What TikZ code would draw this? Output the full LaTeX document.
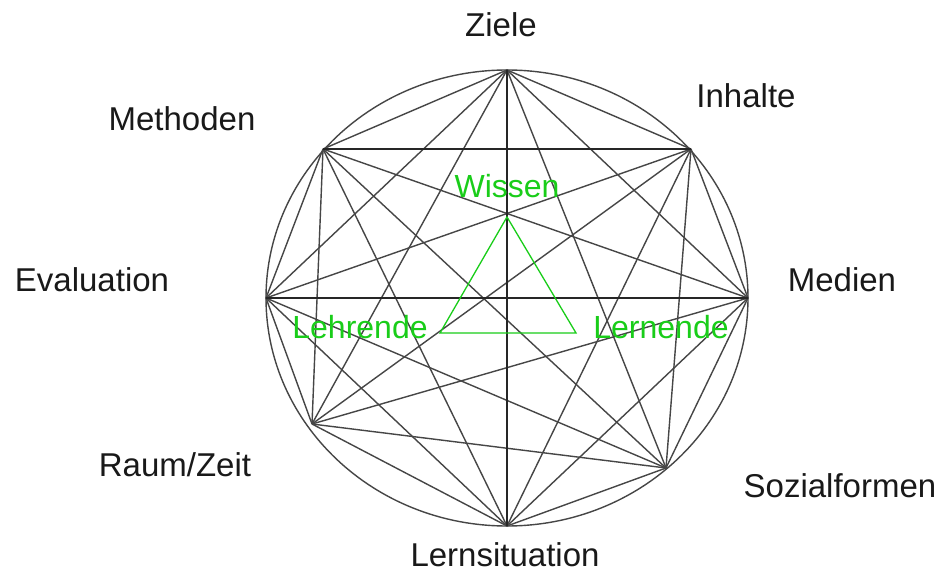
\documentclass[tikz,border=0pt]{standalone}
\usepackage{fontspec}
\setmainfont{Liberation Sans}
\usepackage{tikz}
\usetikzlibrary{positioning, calc}
\definecolor{triad-color}{RGB}{25,205,25}
\definecolor{edge-color}{RGB}{70,70,70}

\begin{document}
\begin{tikzpicture}[
    x=1pt, y=-1pt,
    % factor labels and edges
    lbl/.style={font=\fontsize{33}{38}\selectfont, text=black!90, anchor=base, inner sep=0pt},
    glbl/.style={font=\fontsize{32}{38}\selectfont, text=triad-color, anchor=base, inner sep=0pt},
    edge/.style={draw=edge-color, line width=1.4pt},
    axis/.style={draw=black!85, line width=1.4pt},
    triad/.style={draw=triad-color, line width=1.3pt, line join=miter}
]

% canvas
\fill[white] (0,0) rectangle (943,572);
\useasboundingbox (0,0) rectangle (943,572);

% ===== VERTICES ON THE ELLIPSE =====
\coordinate (zi) at (507,70);
\coordinate (in) at (691,149);
\coordinate (me) at (748,298);
\coordinate (so) at (666,468);
\coordinate (le) at (507,526);
\coordinate (ra) at (312,424);
\coordinate (ev) at (266,298);
\coordinate (mt) at (323,149);

% outer ellipse
\draw[edge] (507,298) ellipse (241 and 228);

% every pair connected
\foreach \a/\i in {zi/1,in/2,me/3,so/4,le/5,ra/6,ev/7,mt/8}{
    \foreach \b/\j in {zi/1,in/2,me/3,so/4,le/5,ra/6,ev/7,mt/8}{
        \ifnum\j>\i \draw[edge] (\a) -- (\b); \fi
    }
}

% the three straight axes
\draw[axis] (mt) -- (in);
\draw[axis] (ev) -- (me);
\draw[axis] (zi) -- (le);

% ===== LABELS =====
\node[lbl] (l-zi) at (501,37) {Ziele};
\node[lbl] (l-in) at (746,108) {Inhalte};
\node[lbl] (l-mt) at (182,131) {Methoden};
\node[lbl] (l-ev) at (92,291) {Evaluation};
\node[lbl] (l-me) at (842,291) {Medien};
\node[lbl] (l-ra) at (175,476) {Raum/Zeit};
\node[lbl] (l-so) at (840,497) {Sozialformen};
\node[lbl] (l-le) at (505,566) {Lernsituation};

% ===== DIDACTIC TRIANGLE =====
\coordinate (w) at (507,217);
\coordinate (t) at (440,333);
\coordinate (r) at (576,333);
\draw[triad] (w) -- (r) -- (t) -- cycle;

\node[glbl] (wissen) at (507,198) {Wissen};
\node[glbl] (lehrende) at (360,338) {Lehrende};
\node[glbl] (lernende) at (661,338) {Lernende};

\end{tikzpicture}
\end{document}
